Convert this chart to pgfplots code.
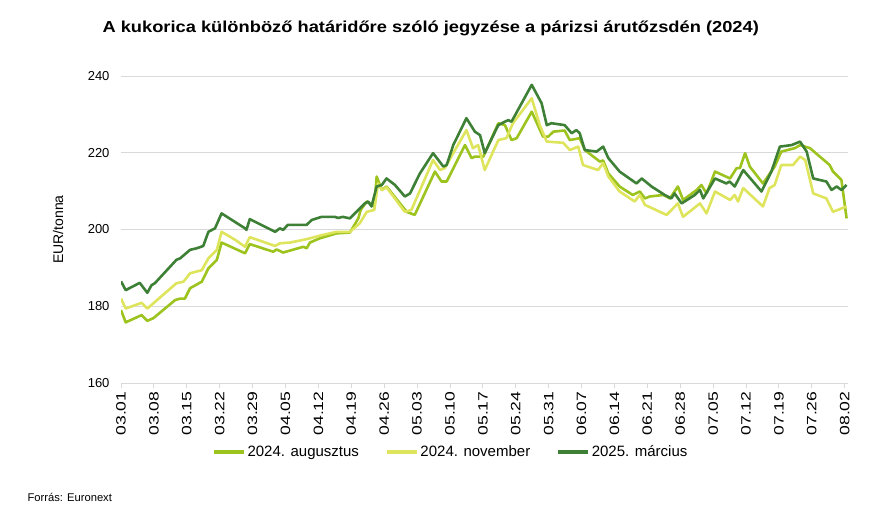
\documentclass[border=0pt]{standalone}
\usepackage{pgfplots}
\pgfplotsset{compat=1.18}
\usepackage{fontspec}
\setmainfont{Liberation Sans}
\newfontfamily\titlefont{Liberation Sans}[FakeStretch=1.15]
\newfontfamily\tickfont{Liberation Sans}[FakeStretch=1.3]

\definecolor{aug}{RGB}{156,195,30}
\definecolor{nov}{RGB}{222,229,92}
\definecolor{mar}{RGB}{62,128,54}
\definecolor{gridc}{RGB}{217,217,217}

\begin{document}
\begin{tikzpicture}
\path[use as bounding box] (0,0) rectangle (896bp,528bp);
\node[anchor=west, font=\titlefont\fontsize{15.9bp}{18bp}\selectfont\bfseries] at (99bp,500bp)
  {A kukorica különböző határidőre szóló jegyzése a párizsi árutőzsdén (2024)};
\node[anchor=west, font=\fontsize{11.2bp}{13bp}\selectfont] at (24bp,31bp) {Forrás: Euronext};

\begin{axis}[
  at={(121bp,145bp)}, anchor=south west,
  scale only axis, width=727bp, height=307bp,
  xmin=0, xmax=154.7, ymin=160, ymax=240,
  ytick={160,180,...,240},
  xtick={0,7,...,154},
  xticklabels={03.01,03.08,03.15,03.22,03.29,04.05,04.12,04.19,04.26,05.03,05.10,05.17,05.24,05.31,06.07,06.14,06.21,06.28,07.05,07.12,07.19,07.26,08.02},
  xticklabel style={rotate=90, anchor=east, font=\tickfont\fontsize{13.5bp}{15bp}\selectfont},
  yticklabel style={font=\fontsize{13bp}{15bp}\selectfont, xshift=-3bp},
  /pgf/number format/assume math mode=true,
  ymajorgrids, grid style={gridc, line width=0.9bp},
  axis line style={draw=none},
  axis x line*=bottom, axis y line*=left,
  x axis line style={draw=gridc, line width=0.9bp},
  xtick style={draw=gridc, line width=0.9bp},
  ytick style={draw=none},
  major tick length=5bp,
  tick align=outside,
  ylabel={EUR/tonna},
  every axis y label/.style={at={(-63bp,0.5)}, rotate=90, anchor=center,
    font=\fontsize{14bp}{16bp}\selectfont},
  legend columns=3,
  legend style={at={(0.4535,-0.225)}, anchor=center, draw=none,
    font=\fontsize{15bp}{17bp}\selectfont,
    /tikz/every even column/.append style={column sep=24bp}},
  legend image code/.code={\draw[#1, line width=3.5bp] (0bp,0bp) -- (30bp,0bp);},
  every axis plot/.append style={line width=2.6bp, line join=round},
]
\addplot[aug] coordinates {
(0,179.0) (1,175.8) (4.4,177.7) (5.6,176.2) (6.9,176.9) (11.5,181.6) (12.6,182.0)
(13.6,182.0) (14.7,184.7) (17.2,186.4) (18.6,189.9) (20.4,192.1) (21.4,196.6)
(26.4,193.8) (27.4,196.2) (32.4,194.2) (33.1,194.8) (34.5,194.0) (38.8,195.5)
(39.5,195.1) (40.2,196.6) (42.3,197.7) (45.9,199.0) (48.7,199.2) (50.5,202.9)
(51.0,205.1) (52.3,207.3) (53.9,206.0) (54.4,213.8) (55.5,210.3) (56.5,211.2)
(60.8,204.6) (62.5,203.8) (66.8,215.1) (68.2,212.5) (69.3,212.5) (73.2,222.0)
(74.6,218.6) (75.3,219.0) (77.1,219.0) (80.3,227.7) (81.7,227.2) (83.1,223.3)
(84.2,223.8) (87.4,230.7) (89.8,224.2) (90.9,224.2) (92.0,225.5) (94.4,225.8)
(95.5,223.3) (97.6,223.8) (98.7,220.7) (101.9,217.7) (102.6,218.0) (103.7,214.6)
(106.1,211.2) (108.9,209.0) (110.4,209.9) (111.5,208.1) (112.5,208.6) (115.4,209.0)
(116.8,208.1) (118.5,211.2) (119.6,207.7) (122.5,210.3) (123.5,211.6) (124.6,209.4)
(126.4,215.1) (129.6,213.3) (131.0,216.0) (131.7,216.0) (132.8,219.9) (133.8,216.4)
(136.6,212.0) (139.1,216.4) (140.5,220.3) (143.4,221.2) (144.5,222.0) (146.6,221.2)
(150.8,216.8) (151.5,215.1) (153.3,212.9) (154.4,202.9)
};
\addlegendentry{2024. augusztus}
\addplot[nov] coordinates {
(0,182.0) (1,179.4) (4.4,180.9) (5.6,179.4) (11.8,186.0) (13.3,186.4) (14.7,188.6)
(17.2,189.4) (18.6,192.5) (20.4,194.7) (21.4,199.4) (24.3,197.3) (26.4,195.5)
(27.4,198.0) (32.8,195.7) (33.8,196.4) (36.0,196.6) (38.8,197.3) (40.2,197.7)
(42.3,198.4) (45.9,199.4) (48.7,199.4) (50.8,201.6) (52.3,204.6) (53.9,205.1)
(54.7,212.0) (55.5,210.3) (56.5,211.0) (60.4,204.6) (61.8,205.1) (66.4,218.1)
(67.9,215.5) (68.9,216.0) (73.5,225.9) (74.9,221.2) (76.0,222.0) (77.4,215.5)
(80.3,223.3) (82.0,223.8) (83.4,227.7) (87.4,234.2) (89.1,227.2) (90.6,222.9)
(94.1,222.6) (95.5,220.7) (97.3,221.6) (98.3,216.8) (101.5,215.5) (102.6,217.3)
(103.7,213.8) (106.1,209.9) (109.3,207.3) (110.4,209.0) (111.5,206.4) (116.1,203.8)
(118.5,206.8) (119.6,203.3) (123.2,206.8) (124.6,204.2) (126.4,209.9) (129.6,207.7)
(130.6,209.0) (131.3,207.3) (132.4,210.8) (136.6,206.0) (138.0,210.8) (139.1,211.6)
(140.5,216.8) (143.0,216.8) (144.5,219.0) (145.6,218.1) (147.3,209.4) (150.1,208.1)
(151.5,204.6) (154.4,206.0)
};
\addlegendentry{2024. november}
\addplot[mar] coordinates {
(0,186.5) (1,184.2) (4.0,186.1) (5.6,183.5) (6.5,185.5) (7.2,186.0) (11.8,192.1)
(12.6,192.5) (14.7,194.7) (16.1,195.1) (17.5,195.7) (18.6,199.4) (20.0,200.3)
(21.4,204.2) (26.4,200.3) (26.7,199.9) (27.4,202.7) (32.8,199.4) (33.8,200.3)
(34.5,199.9) (35.5,201.2) (39.5,201.2) (40.6,202.5) (42.7,203.3) (45.5,203.3)
(46.2,203.0) (47.2,203.3) (48.7,202.9) (50.1,204.6) (51.9,206.8) (52.6,207.3)
(53.3,206.0) (54.4,211.2) (55.5,211.6) (56.5,213.3) (58.3,211.6) (60.4,208.6)
(61.5,209.4) (63.6,214.6) (66.4,219.9) (68.6,216.4) (69.3,216.8) (70.7,222.0)
(73.5,229.0) (75.3,225.5) (76.4,224.6) (77.4,219.9) (79.6,225.5) (80.3,227.2)
(81.7,228.1) (82.4,228.5) (83.1,228.1) (87.4,237.7) (89.5,232.9) (90.6,227.2)
(91.6,227.7) (94.4,227.2) (95.9,225.1) (96.9,225.9) (97.6,225.1) (98.7,220.7)
(101.2,220.3) (102.6,221.6) (103.7,218.6) (106.1,215.1) (107.6,213.8) (109.7,212.0)
(110.8,213.3) (112.9,211.2) (115.7,209.0) (117.1,208.1) (117.8,209.4) (119.3,206.8)
(122.1,209.0) (123.2,210.3) (123.9,208.1) (126.4,213.3) (128.8,212.0) (129.5,212.5)
(130.6,211.2) (132.4,215.5) (136.3,209.9) (138.4,215.1) (140.2,221.6) (142.7,222.0)
(144.5,222.9) (145.9,220.3) (147.3,213.3) (150.1,212.5) (151.2,210.3) (152.3,211.2)
(153.3,210.3) (154.4,211.6)
};
\addlegendentry{2025. március}
\end{axis}
\end{tikzpicture}
\end{document}
